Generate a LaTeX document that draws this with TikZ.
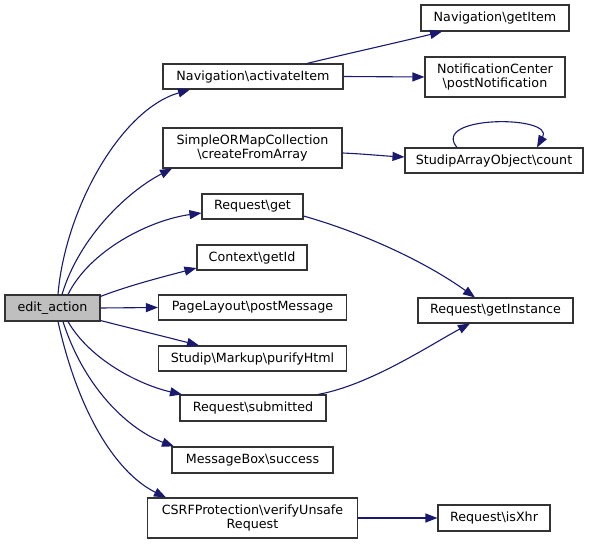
\documentclass[tikz,border=0pt]{standalone}
\usepackage{fontspec}
\setmainfont{DejaVu Sans}
\usetikzlibrary{arrows.meta,calc}
\definecolor{edgeblue}{HTML}{191970}
\begin{document}
\begin{tikzpicture}[x=1pt,y=-1pt,
  box/.style={draw=black!80, line width=1.1pt, inner sep=0pt, align=center,
    font=\fontsize{12.7}{14.5}\selectfont},
  edge/.style={draw=edgeblue, line width=1.1pt, -{Triangle[length=12pt,width=9pt]}, edgeblue}]
\useasboundingbox (0,0) rectangle (591,545);
\node[box, fill=black!25, minimum width=95pt, minimum height=26pt] (ea) at (52.5,308) {edit\_action};
\node[box, minimum width=180pt, minimum height=25pt] (nav) at (253,76.5) {Navigation\textbackslash activateItem};
\node[box, minimum width=179pt, minimum height=40pt] (sorm) at (252.5,148) {SimpleORMapCollection\\\textbackslash createFromArray};
\node[box, minimum width=101pt, minimum height=25pt] (rget) at (252.5,206.5) {Request\textbackslash get};
\node[box, minimum width=110pt, minimum height=25pt] (ctx) at (252,257.5) {Context\textbackslash getId};
\node[box, minimum width=188pt, minimum height=25pt] (pl) at (252.5,307.5) {PageLayout\textbackslash postMessage};
\node[box, minimum width=188pt, minimum height=25pt] (mk) at (252.5,358.5) {Studip\textbackslash Markup\textbackslash purifyHtml};
\node[box, minimum width=146pt, minimum height=26pt] (rsub) at (253,408) {Request\textbackslash submitted};
\node[box, minimum width=161pt, minimum height=26pt] (mb) at (252.5,460) {MessageBox\textbackslash success};
\node[box, minimum width=210pt, minimum height=40pt] (csrf) at (252.5,518) {CSRFProtection\textbackslash verifyUnsafe\\Request};
\node[box, minimum width=148pt, minimum height=26pt] (gi) at (495,18) {Navigation\textbackslash getItem};
\node[box, minimum width=140pt, minimum height=40pt] (nc) at (495,77) {NotificationCenter\\\textbackslash postNotification};
\node[box, minimum width=178pt, minimum height=25pt] (cnt) at (494,160.5) {StudipArrayObject\textbackslash count};
\node[box, minimum width=155pt, minimum height=25pt] (rgi) at (495.5,310.5) {Request\textbackslash getInstance};
\node[box, minimum width=112pt, minimum height=26pt] (xhr) at (494,518) {Request\textbackslash isXhr};

\draw[edge] ($(ea.north)+(5.5,0)$) .. controls (65,210) and (120,110) .. ($(nav.south)+(-63,0)$);
\draw[edge] ($(ea.north)+(9.5,0)$) .. controls (80,235) and (130,190) .. ($(sorm.south)+(-80.5,0)$);
\draw[edge] ($(ea.north)+(15.5,0)$) .. controls (90,250) and (150,220) .. ($(rget.west)+(0,6.5)$);
\draw[edge] ($(ea.north east)+(0,2)$) .. controls (130,285) and (170,275) .. ($(ctx.west)+(0,10.5)$);
\draw[edge] (ea.east) -- (pl.west);
\draw[edge] ($(ea.south east)+(0,-1)$) .. controls (130,328) and (170,338) .. ($(mk.north)+(-53.5,0)$);
\draw[edge] ($(ea.south)+(15.5,0)$) .. controls (90,360) and (140,385) .. ($(rsub.north)+(-71,0)$);
\draw[edge] ($(ea.south)+(10.5,0)$) .. controls (85,390) and (130,430) .. ($(mb.north)+(-78.5,0)$);
\draw[edge] ($(ea.south)+(5.5,0)$) .. controls (80,420) and (120,475) .. ($(csrf.north)+(-86.5,0)$);
\draw[edge] ($(nav.north)+(54,0)$) .. controls (350,53) and (400,42) .. ($(gi.south)+(-53,0)$);
\draw[edge] (nav.east) -- (nc.west);
\draw[edge] ($(sorm.east)+(0,5)$) .. controls (365,154) and (385,156) .. ($(cnt.west)+(0,-3.5)$);
\draw[edge] ($(cnt.north)+(-37,0)$) .. controls (430,115) and (555,115) .. ($(cnt.north)+(43,0)$);
\draw[edge] ($(rget.east)+(0,9.5)$) .. controls (370,235) and (430,265) .. ($(rgi.north)+(-20.5,0)$);
\draw[edge] ($(rsub.north)+(65,0)$) .. controls (370,385) and (430,345) .. ($(rgi.south)+(-25.5,0)$);
\draw[edge] (csrf.east) -- (xhr.west);
\end{tikzpicture}
\end{document}
